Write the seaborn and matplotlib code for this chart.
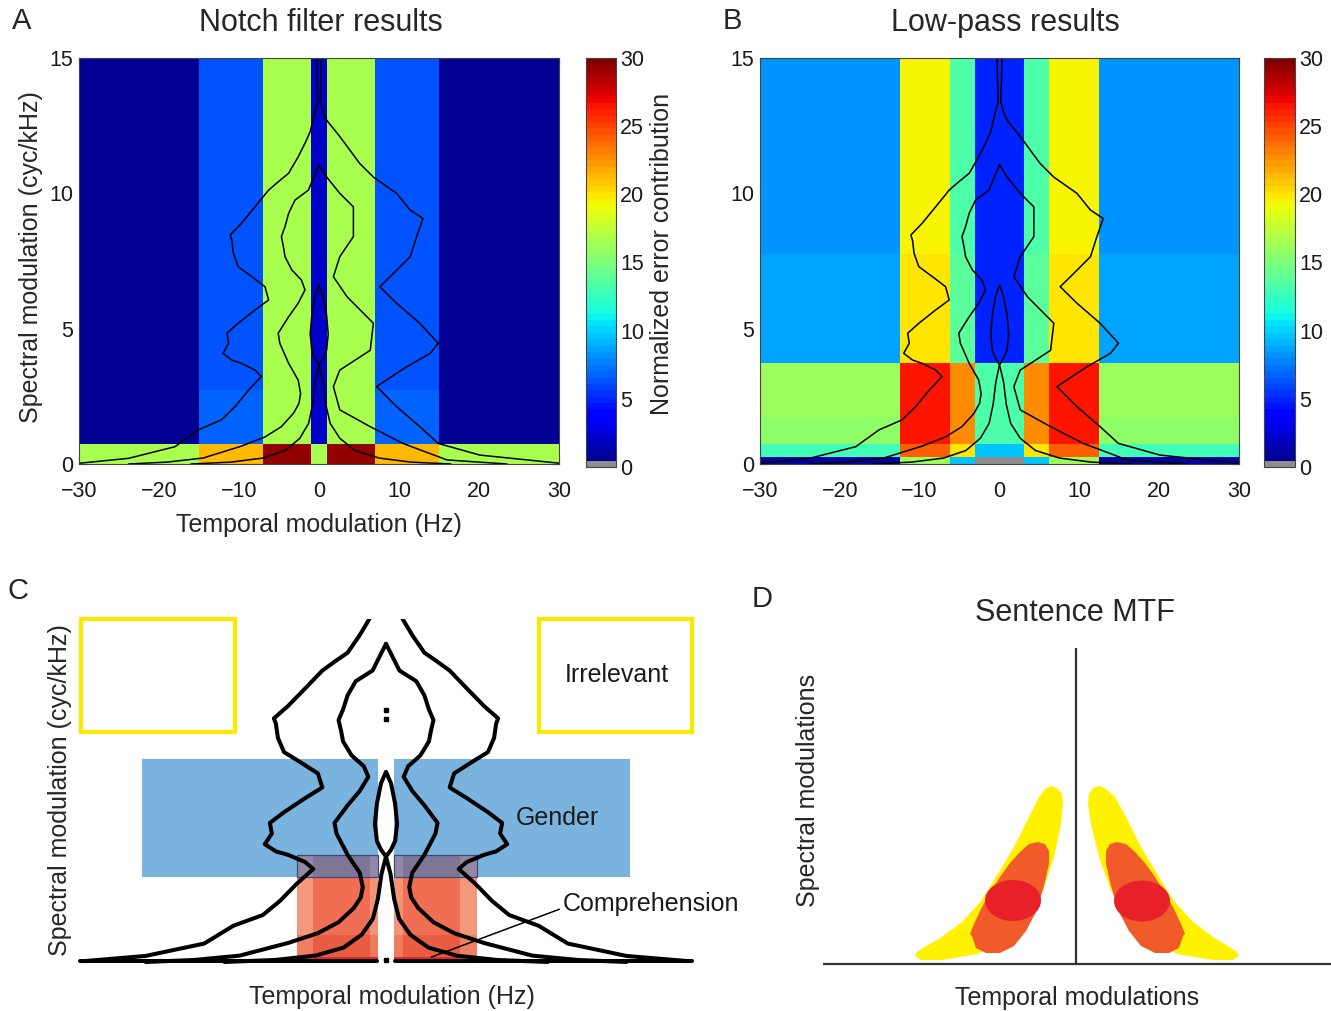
import numpy as np
import matplotlib
matplotlib.use("Agg")
import matplotlib.pyplot as plt
from matplotlib.colors import ListedColormap
from matplotlib.patches import Rectangle, Ellipse, Polygon
import seaborn as sns

# ======================= DATA =======================
# Panel A: notch filter results (block map, rows bottom -> top)
notch_x_edges = [-30, -15, -7, -1, 1, 7, 15, 30]
notch_y_edges = [0, 0.75, 2.75, 6.75, 15]
notch_row0 = [16.5, 21.3, 29.4, 16.5, 29.4, 21.3, 16.5]
notch_row1 = [0.7, 6.9, 16.5, 2.0, 16.5, 6.9, 0.7]
notch_row2 = [0.7, 6.4, 16.5, 2.0, 16.5, 6.4, 0.7]
notch_row3 = [0.7, 6.4, 16.5, 2.0, 16.5, 6.4, 0.7]

# Panel B: low-pass results (block map, rows bottom -> top)
lp_x_edges = [-30, -12.5, -6.25, -3.125, 3.125, 6.25, 12.5, 30]
lp_y_edges = [0, 0.25, 0.75, 1.75, 3.75, 7.75, 15]
lp_row0 = [1.1, 16.4, 9.6, 0.0, 9.6, 16.4, 1.1]
lp_row1 = [12.9, 24.0, 19.8, 9.6, 19.8, 24.0, 12.9]
lp_row2 = [15.6, 26.6, 22.5, 13.4, 22.5, 26.6, 15.6]
lp_row3 = [16.4, 26.6, 22.5, 13.4, 22.5, 26.6, 16.4]
lp_row4 = [8.7, 19.8, 13.6, 4.9, 13.6, 19.8, 8.7]
lp_row5 = [8.2, 19.3, 13.4, 4.9, 13.4, 19.3, 8.2]

cbar_ticks = [0, 5, 10, 15, 20, 25, 30]
x_ticks = [-30, -20, -10, 0, 10, 20, 30]
y_ticks = [0, 5, 10, 15]

# Modulation power spectrum contours (Hz, cyc/kHz), traced top -> bottom
outer_left_x = [-0.3, -0.25, -0.15, -0.6, -1.1, -1.75, -2.6, -3.8, -5.0, -6.3, -8.0, -9.7, -11.1, -10.9,
                -10.7, -10.1, -8.4, -6.75, -6.3, -8.0, -10.1, -11.5, -11.3, -12.0, -10.9, -9.7, -8.0,
                -7.2, -8.8, -10.5, -12.2, -15.1, -18.0, -23.8, -29.9]
outer_left_y = [15.0, 14.2, 13.4, 12.9, 12.28, 11.85, 11.35, 10.74, 10.45, 10.12, 9.5, 8.89, 8.46, 8.27,
                7.78, 7.29, 6.92, 6.55, 6.06, 5.69, 5.2, 4.83, 4.46, 4.09, 3.84, 3.72, 3.47,
                3.23, 2.73, 2.12, 1.63, 1.26, 0.64, 0.21, 0.03]
outer_right_x = [0.3, 0.25, 0.15, 0.5, 0.96, 2.6, 5.1, 6.8, 9.7, 11.4, 13.0, 12.2, 11.4, 9.3, 7.6,
                 9.7, 12.6, 14.9, 13.9, 11.0, 7.2, 9.7, 12.6, 14.9, 20.1, 30.0]
outer_right_y = [15.0, 14.2, 13.4, 13.0, 12.7, 12.1, 11.1, 10.6, 10.0, 9.38, 9.07, 8.4, 7.66, 7.04, 6.55,
                 5.94, 5.2, 4.46, 4.09, 3.6, 2.86, 2.12, 1.38, 0.76, 0.33, 0.03]
middle_left_x = [0.0, -1.33, -3.0, -3.8, -4.25, -4.7, -4.45, -4.25, -3.4, -2.2, -1.75, -2.6, -3.8,
                 -5.1, -4.9, -3.8, -2.6, -2.3, -2.5, -3.2, -4.7, -6.75, -9.7, -14.5, -19.0, -23.8]
middle_left_y = [11.05, 10.12, 9.75, 9.26, 8.77, 8.4, 8.03, 7.66, 7.17, 6.8, 6.43, 5.94, 5.44,
                 4.83, 4.46, 3.72, 3.1, 2.6, 2.24, 1.87, 1.38, 1.0, 0.66, 0.22, 0.07, 0.0]
middle_right_x = [0.0, 0.96, 2.6, 4.3, 4.3, 2.6, 1.8, 3.5, 6.8, 6.4, 2.6, 1.8, 2.6, 6.4, 10.5, 16.0, 23.5]
middle_right_y = [11.05, 10.6, 10.0, 9.5, 8.4, 7.66, 6.92, 6.18, 5.2, 4.2, 3.47, 2.86, 2.0, 1.38, 0.76, 0.15, 0.0]
inner_left_x = [0.0, -0.5, -0.9, -1.1, -0.9, -0.5, 0.0, -0.45, -0.8, -1.3, -2.4, -4.2, -7.0, -11.0, -16.0]
inner_right_x = [0.0, 0.5, 0.95, 1.15, 0.95, 0.5, 0.0, 0.5, 0.85, 1.4, 2.6, 4.5, 7.5, 11.5, 16.5]
inner_y = [6.6, 6.2, 5.5, 4.8, 4.2, 3.9, 3.66, 3.05, 2.2, 1.5, 0.95, 0.5, 0.22, 0.07, 0.0]
island_x = [0.0, 0.0, 0.0]
island_y = [8.45, 8.75, 0.07]
# panel C draws the contours symmetrically; the baseline runs along zero spectral modulation
baseline_left_x = [-30.3, -0.9]
baseline_right_x = [0.9, 30.3]
baseline_y = [0.02, 0.02]

# Panel C: schematic regions (Hz, cyc/kHz)
irrelevant_left_x = [-30.2, -15.0]
irrelevant_right_x = [15.1, 30.3]
irrelevant_y = [8.0, 11.9]
gender_left_x = [-24.2, -0.75]
gender_right_x = [0.75, 24.2]
gender_y = [2.96, 7.05]
comp_left_x_edges = [-8.8, -7.2, -1.6, -0.75]
comp_right_x_edges = [0.75, 1.7, 7.3, 9.0]
comp_y_edges = [0.0, 0.17, 0.94, 2.96, 3.72]
# colours per row (bottom -> top), columns from outer edge towards the centre
comp_colors = [["#e9533f", "#e3242c", "#e3242c"],
               ["#ef7e62", "#e85c42", "#ee7a5e"],
               ["#f4987c", "#f06e54", "#f39478"],
               ["#9787a6", "#7f7696", "#9488a5"]]
gender_color = "#7ab3de"
irrelevant_color = "#ffe800"

# Panel D: sentence MTF schematic (arbitrary units)
d_yellow_left_x = [-25, -19, -14, -13, -15, -22, -33, -47, -69, -98, -134, -155, -161, -158, -134, -113,
                   -95, -80, -62, -47, -37, -31]
d_yellow_right_x = [23, 17, 13, 12, 15, 23, 35, 50, 72, 101, 137, 157, 163, 160, 137, 116,
                    98, 83, 65, 50, 39, 30]
d_yellow_y = [178, 176, 170, 160, 140, 107, 73, 47, 27, 10, 4, 4, 8, 13, 27, 43,
              63, 87, 117, 147, 167, 175]
d_orange_left_x = [-104, -100, -90, -76, -62, -50, -40, -32, -27, -27, -31, -38, -47, -56, -66, -76,
                   -86, -95, -102, -106]
d_orange_right_x = [107, 103, 93, 79, 65, 53, 43, 35, 30, 30, 34, 41, 50, 59, 69, 79,
                    89, 98, 105, 109]
d_orange_y = [28, 16, 11, 11, 18, 33, 52, 78, 100, 113, 120, 122, 120, 112, 101, 87,
              71, 55, 40, 30]
d_red_centers_x = [-63, 66]
d_red_centers_y = [63.5, 63]
d_red_width = 56
d_red_height = 41
d_axis_x = [-253, 255]
d_axis_y = [0, 316]

# ======================= STYLE =======================
sns.set_theme(style="white")
plt.rcParams['font.family'] = ['Liberation Sans', 'DejaVu Sans']

W, H = 1331, 1011
fig = plt.figure(figsize=(W / 100, H / 100), dpi=100)


def px_axes(x0, y0, x1, y1):
    return fig.add_axes([x0 / W, 1 - y1 / H, (x1 - x0) / W, (y1 - y0) / H])


def ftext(x, y, s, **kw):
    kw.setdefault('ha', 'center')
    kw.setdefault('va', 'center')
    fig.text(x / W, 1 - y / H, s, **kw)


jet64 = matplotlib.colormaps['jet'].resampled(64)(np.arange(64))
jet64[0] = (0.55, 0.55, 0.55, 1.0)
cmap = ListedColormap(jet64)

contours_ab = [(outer_left_x, outer_left_y), (outer_right_x, outer_right_y),
               (middle_left_x, middle_left_y), (middle_right_x, middle_right_y),
               (inner_left_x, inner_y), (inner_right_x, inner_y)]
contours_c = [(outer_left_x, outer_left_y), (np.negative(outer_left_x), outer_left_y),
              (middle_left_x, middle_left_y), (np.negative(middle_left_x), middle_left_y),
              (inner_left_x, inner_y), (np.negative(inner_left_x), inner_y),
              (baseline_left_x, baseline_y), (baseline_right_x, baseline_y)]


def draw_contours(ax, contours, lw):
    for xs, ys in contours:
        sns.lineplot(x=list(xs), y=list(ys), sort=False, estimator=None, color='black',
                     linewidth=lw, ax=ax, solid_joinstyle='round')


def block_panel(rect, x_edges, y_edges, rows, cbar_rect):
    ax = px_axes(*rect)
    Z = np.array(rows)
    mesh = ax.pcolormesh(np.array(x_edges), np.array(y_edges), Z, cmap=cmap,
                         vmin=0, vmax=30, shading='flat')
    draw_contours(ax, contours_ab, 1.1)
    ax.set_xlim(-30, 30)
    ax.set_ylim(0, 15)
    ax.set_xticks(x_ticks)
    ax.set_yticks(y_ticks)
    ax.set_xlabel('')
    ax.set_ylabel('')
    ax.tick_params(direction='in', top=True, right=True, bottom=True, left=True,
                   length=5, width=0.8, colors='#222222', labelsize=15.5, labelcolor='#1a1a1a')
    ax.tick_params(axis='x', pad=12)
    ax.tick_params(axis='y', pad=4)
    for sp in ax.spines.values():
        sp.set_color('#444444')
        sp.set_linewidth(0.8)
    cax = px_axes(*cbar_rect)
    cb = fig.colorbar(mesh, cax=cax, ticks=cbar_ticks)
    cb.outline.set_linewidth(0.8)
    cb.outline.set_edgecolor('#444444')
    cax.tick_params(direction='in', left=True, right=True, length=4, width=0.8,
                    labelsize=15.5, pad=3, colors='#222222', labelcolor='#1a1a1a')
    return ax


# ---------------- Panel A ----------------
block_panel((79, 58, 559, 464), notch_x_edges, notch_y_edges,
            [notch_row0, notch_row1, notch_row2, notch_row3], (586, 58, 616, 467))
ftext(22, 21, 'A', fontsize=21)
ftext(321, 23, 'Notch filter results', fontsize=22)
ftext(31, 257, 'Spectral modulation (cyc/kHz)', fontsize=18, rotation=90)
ftext(319, 525, 'Temporal modulation (Hz)', fontsize=18)
ftext(662, 254, 'Normalized error contribution', fontsize=18, rotation=90)

# ---------------- Panel B ----------------
block_panel((760, 58, 1239, 464), lp_x_edges, lp_y_edges,
            [lp_row0, lp_row1, lp_row2, lp_row3, lp_row4, lp_row5], (1264, 58, 1295, 467))
ftext(732, 21, 'B', fontsize=21)
ftext(1005, 23, 'Low-pass results', fontsize=22)

# ---------------- Panel C ----------------
axC = px_axes(72.9, 619.3, 699.1, 966.3)
axC.set_xlim(-31, 31)
axC.set_ylim(-0.15, 11.9)
axC.axis('off')

for xs in (irrelevant_left_x, irrelevant_right_x):
    axC.add_patch(Rectangle((xs[0], irrelevant_y[0]), xs[1] - xs[0], irrelevant_y[1] - irrelevant_y[0],
                            fill=False, edgecolor=irrelevant_color, linewidth=3.0, clip_on=False, zorder=1))
for xs in (gender_left_x, gender_right_x):
    axC.add_patch(Rectangle((xs[0], gender_y[0]), xs[1] - xs[0], gender_y[1] - gender_y[0],
                            facecolor=gender_color, edgecolor='none', zorder=0.5))
for r in range(len(comp_y_edges) - 1):
    y0, y1 = comp_y_edges[r], comp_y_edges[r + 1]
    for c in range(3):
        x0, x1 = comp_left_x_edges[c], comp_left_x_edges[c + 1]
        axC.add_patch(Rectangle((x0, y0), x1 - x0, y1 - y0, facecolor=comp_colors[r][c],
                                edgecolor='none', zorder=0.8))
        x0, x1 = comp_right_x_edges[c], comp_right_x_edges[c + 1]
        axC.add_patch(Rectangle((x0, y0), x1 - x0, y1 - y0, facecolor=comp_colors[r][2 - c],
                                edgecolor='none', zorder=0.8))
for xe in (comp_left_x_edges, comp_right_x_edges):
    axC.add_patch(Rectangle((xe[0], comp_y_edges[3]), xe[-1] - xe[0], comp_y_edges[4] - comp_y_edges[3],
                            fill=False, edgecolor='#3b4a7a', linewidth=0.9, zorder=0.9))

draw_contours(axC, contours_c, 2.9)
axC.plot(island_x, island_y, 's', color='black', markersize=3.2, zorder=3)
axC.set_xlim(-31, 31)
axC.set_ylim(-0.15, 11.9)
axC.set_xlabel('')
axC.set_ylabel('')
axC.text(22.9, 9.97, 'Irrelevant', ha='center', va='center', fontsize=18, color='#1a1a1a')
axC.text(17.0, 5.0, 'Gender', ha='center', va='center', fontsize=18, color='#1a1a1a')
axC.annotate('Comprehension', xy=(4.5, 0.17), xytext=(17.5, 2.0), ha='left', va='center',
             fontsize=18, color='#1a1a1a', annotation_clip=False,
             arrowprops=dict(arrowstyle='-', color='black', lw=1.1, shrinkA=0, shrinkB=0,
                             relpos=(0.0, 0.35)))
ftext(18, 591, 'C', fontsize=21)
ftext(60, 790, 'Spectral modulation (cyc/kHz)', fontsize=18, rotation=90)
ftext(392, 997, 'Temporal modulation (Hz)', fontsize=18)

# ---------------- Panel D ----------------
axD = px_axes(818, 640, 1331, 968)
axD.set_xlim(-258, 255)
axD.set_ylim(-4, 324)
axD.axis('off')
for xs in (d_yellow_left_x, d_yellow_right_x):
    axD.add_patch(Polygon(np.column_stack([xs, d_yellow_y]), closed=True, facecolor='#fff200',
                          edgecolor='none', zorder=1))
for xs in (d_orange_left_x, d_orange_right_x):
    axD.add_patch(Polygon(np.column_stack([xs, d_orange_y]), closed=True, facecolor='#f15a29',
                          edgecolor='none', zorder=2))
for cx, cy in zip(d_red_centers_x, d_red_centers_y):
    axD.add_patch(Ellipse((cx, cy), d_red_width, d_red_height, facecolor='#e8202a',
                          edgecolor='none', zorder=3))
axD.plot(d_axis_x, [0, 0], color='#333333', lw=1.6, zorder=4, solid_capstyle='butt')
axD.plot([0, 0], d_axis_y, color='#333333', lw=1.6, zorder=4, solid_capstyle='butt')
ftext(762, 599, 'D', fontsize=21)
ftext(1075, 613, 'Sentence MTF', fontsize=22)
ftext(808, 790, 'Spectral modulations', fontsize=18, rotation=90)
ftext(1077, 998, 'Temporal modulations', fontsize=18)

fig.savefig('out.png', dpi=100)
